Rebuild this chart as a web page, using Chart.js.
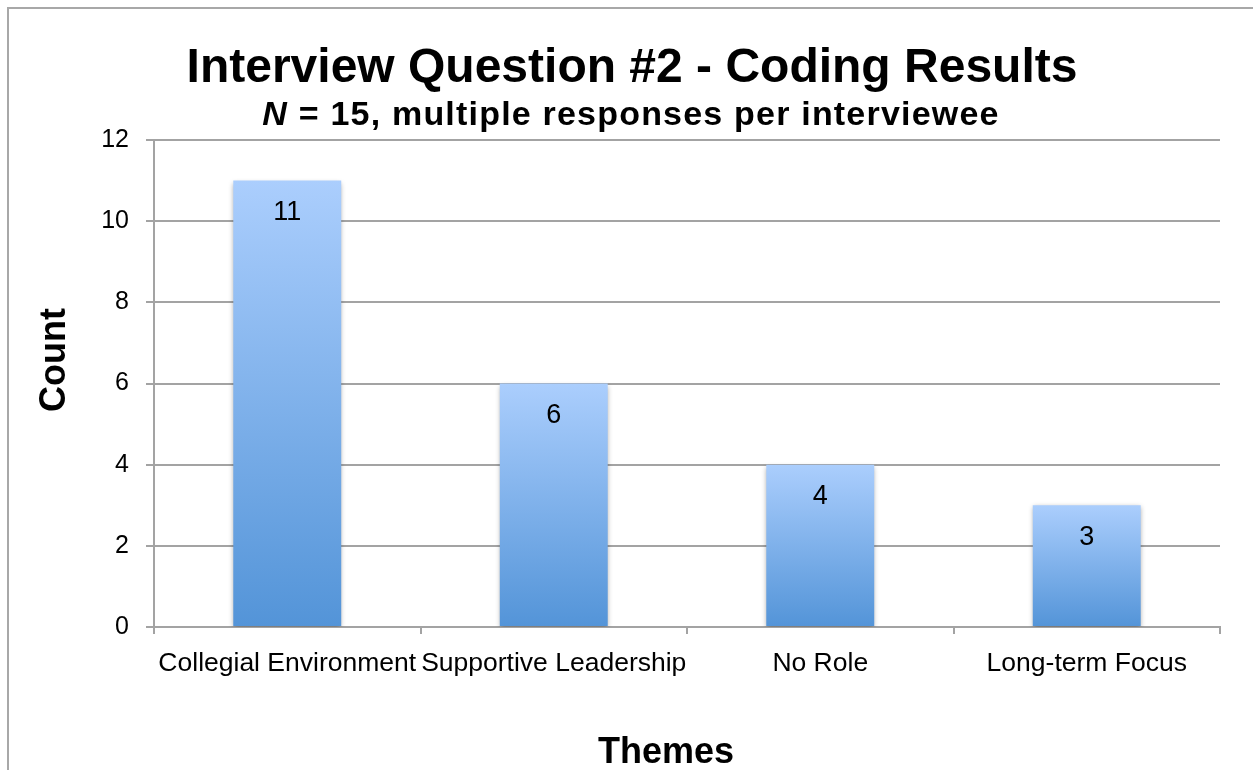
<!DOCTYPE html>
<html lang="en">
<head>
  <meta charset="UTF-8">
  <title>Interview Question #2 - Coding Results</title>
  <script src="https://cdn.jsdelivr.net/npm/chart.js"></script>
  <style>
    body { margin: 0; background: #fff; }
    canvas { display: block; }
  </style>
</head>
<body>
  <canvas id="chart" width="1253" height="770"></canvas>

  <script>
    // data
    const themes = ['Collegial Environment', 'Supportive Leadership', 'No Role', 'Long-term Focus'];
    const counts = [11, 6, 4, 3];
    const yMin = 0, yMax = 12, yStep = 2;

    const titleText = 'Interview Question #2 - Coding Results';
    const subtitleItalic = 'N';
    const subtitleRest = ' = 15, multiple responses per interviewee';
    const yTitle = 'Count';
    const xTitle = 'Themes';

    const FONT = '"Liberation Sans", Arial, sans-serif';
    const gridColor = '#a3a3a3';

    // gradient per bar, light on top, darker at the base
    function barGradient(c) {
      const chart = c.chart;
      if (!chart.chartArea || !chart.scales.y) return '#7aaee8';
      const y = chart.scales.y;
      const top = y.getPixelForValue(c.raw);
      const bottom = y.getPixelForValue(0);
      const g = chart.ctx.createLinearGradient(0, top, 0, bottom);
      g.addColorStop(0, '#abcefd');
      g.addColorStop(1, '#5394d8');
      return g;
    }

    const decor = {
      id: 'decor',
      beforeDraw(chart) {
        const ctx = chart.ctx;
        ctx.save();
        ctx.strokeStyle = '#a8a8a8';
        ctx.lineWidth = 2;
        ctx.beginPath();
        ctx.moveTo(8, 770);
        ctx.lineTo(8, 8);
        ctx.lineTo(1253, 8);
        ctx.stroke();
        ctx.restore();
      },
      beforeDatasetsDraw(chart) {
        const ctx = chart.ctx;
        ctx.save();
        ctx.shadowColor = 'rgba(0,0,0,0.35)';
        ctx.shadowBlur = 5;
        ctx.shadowOffsetX = 0;
        ctx.shadowOffsetY = 2;
      },
      afterDatasetsDraw(chart) {
        const ctx = chart.ctx;
        ctx.restore();
        // value labels inside the bars
        ctx.save();
        ctx.fillStyle = '#000';
        ctx.font = '27px ' + FONT;
        ctx.textAlign = 'center';
        ctx.textBaseline = 'middle';
        chart.getDatasetMeta(0).data.forEach((bar, i) => {
          ctx.fillText(String(counts[i]), bar.x, bar.y + 32);
        });
        ctx.restore();
      },
      afterDraw(chart) {
        const ctx = chart.ctx;
        ctx.save();
        ctx.fillStyle = '#000';
        ctx.textBaseline = 'alphabetic';

        // main title
        ctx.font = 'bold 48px ' + FONT;
        ctx.textAlign = 'center';
        ctx.fillText(titleText, 632, 82);

        // subtitle with italic N
        ctx.textAlign = 'left';
        ctx.letterSpacing = '1.2px';
        ctx.font = 'italic bold 34px ' + FONT;
        const w1 = ctx.measureText(subtitleItalic).width;
        ctx.font = 'bold 34px ' + FONT;
        const w2 = ctx.measureText(subtitleRest).width;
        let x = 631 - (w1 + w2) / 2;
        ctx.font = 'italic bold 34px ' + FONT;
        ctx.fillText(subtitleItalic, x, 125);
        ctx.font = 'bold 34px ' + FONT;
        ctx.fillText(subtitleRest, x + w1, 125);
        ctx.letterSpacing = '0px';

        // axis titles
        ctx.font = 'bold 36px ' + FONT;
        ctx.textAlign = 'center';
        ctx.fillText(xTitle, 666, 763);
        ctx.translate(65, 360);
        ctx.rotate(-Math.PI / 2);
        ctx.fillText(yTitle, 0, 0);
        ctx.restore();
      }
    };

    new Chart(document.getElementById('chart'), {
      type: 'bar',
      data: {
        labels: themes,
        datasets: [{
          data: counts,
          backgroundColor: barGradient,
          borderWidth: 0,
          barPercentage: 0.405,
          categoryPercentage: 1
        }]
      },
      options: {
        responsive: false,
        animation: false,
        devicePixelRatio: 1,
        layout: { padding: { top: 140, right: 33, bottom: 0, left: 0 } },
        plugins: {
          legend: { display: false },
          tooltip: { enabled: false }
        },
        scales: {
          x: {
            offset: true,
            grid: {
              offset: true,
              drawOnChartArea: false,
              drawTicks: true,
              tickLength: 7,
              color: gridColor,
              lineWidth: 2
            },
            border: { display: true, color: gridColor, width: 2 },
            ticks: {
              color: '#000',
              font: { family: FONT, size: 26.5 },
              maxRotation: 0,
              minRotation: 0,
              autoSkip: false,
              padding: 14
            },
            afterFit(s) { s.height = 143; }
          },
          y: {
            min: yMin,
            max: yMax,
            grid: {
              color: gridColor,
              lineWidth: 2,
              drawTicks: true,
              tickLength: 8
            },
            border: { display: true, color: gridColor, width: 2 },
            ticks: {
              stepSize: yStep,
              color: '#000',
              font: { family: FONT, size: 25 },
              padding: 17
            },
            afterFit(s) { s.width = 154; }
          }
        }
      },
      plugins: [decor]
    });
  </script>
</body>
</html>
